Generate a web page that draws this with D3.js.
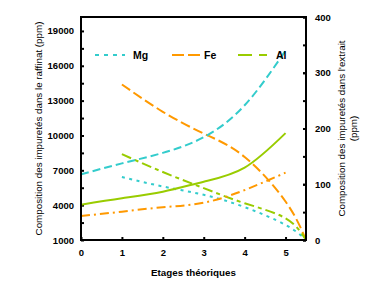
<!DOCTYPE html>
<html>
<head>
<meta charset="utf-8">
<script src="https://cdn.jsdelivr.net/npm/d3@7"></script>
<style>
  body { margin: 0; background: #fff; }
  text { font-family: "Liberation Sans", Arial, sans-serif; fill: #000; }
  .tick text { font-size: 9.5px; font-weight: bold; }
  .title { font-size: 9.8px; }
</style>
</head>
<body>
<svg id="drawing_region"></svg>
<script>
// stages and values
const stagesRaffinat = [0, 1, 2, 3, 4, 5];
const stagesExtrait = [1, 2, 3, 4, 5, 5.5];

const mgRaffinat = [6650, 7600, 8500, 9850, 12600, 17300];
const feRaffinat = [3070, 3440, 3820, 4210, 5300, 6800];
const alRaffinat = [4040, 4590, 5160, 6020, 7230, 10200];

const mgExtrait = [113, 96, 81, 59, 27, 0];
const feExtrait = [279, 230, 191, 149, 69, 0];
const alExtrait = [154, 122, 93, 66, 39, 0];

const xTicks = [0, 1, 2, 3, 4, 5];
const leftTicks = [1000, 4000, 7000, 10000, 13000, 16000, 19000];
const rightTicks = [0, 100, 200, 300, 400];
const legendNames = ['Mg', 'Fe', 'Al'];

const width = 387, height = 285;
const margin = {top: 17, right: 81, bottom: 45, left: 81};

const svg = d3.select('#drawing_region')
    .attr('width', width)
    .attr('height', height);

const x = d3.scaleLinear().domain([0, 5.5]).range([margin.left, width - margin.right]);
const yL = d3.scaleLinear().domain([1000, 20200]).range([height - margin.bottom, margin.top]);
const yR = d3.scaleLinear().domain([0, 400]).range([height - margin.bottom, margin.top]);

const colors = {Mg: '#33cccc', Fe: '#ff9900', Al: '#99cc00'};

// axes
const bottom = height - margin.bottom;
const right = width - margin.right;

svg.append('g')
    .attr('transform', `translate(0,${bottom})`)
    .call(d3.axisBottom(x).tickValues(xTicks).tickSize(-3).tickPadding(9).tickFormat(d3.format('d')))
    .call(g => g.select('.domain').remove());

svg.append('g')
    .attr('transform', `translate(${margin.left},0)`)
    .call(d3.axisLeft(yL).tickValues(d3.range(2500, 20200, 3000)).tickSize(-3).tickFormat(''))
    .call(g => g.select('.domain').remove());

svg.append('g')
    .attr('transform', `translate(${margin.left},0)`)
    .call(d3.axisLeft(yL).tickValues(leftTicks).tickSize(-3).tickPadding(7).tickFormat(d3.format('d')))
    .call(g => g.select('.domain').remove());

svg.append('g')
    .attr('transform', `translate(${right},0)`)
    .call(d3.axisRight(yR).tickValues(d3.range(0, 401, 50)).tickSize(-3).tickFormat(''))
    .call(g => g.select('.domain').remove());

svg.append('g')
    .attr('transform', `translate(${right},0)`)
    .call(d3.axisRight(yR).tickValues(rightTicks).tickSize(-3).tickPadding(9).tickFormat(d3.format('d')))
    .call(g => g.select('.domain').remove());

svg.selectAll('.tick line').attr('stroke', '#000').attr('stroke-width', 2);

// curves
const lineL = d3.line().x(d => x(d[0])).y(d => yL(d[1])).curve(d3.curveNatural);
const lineR = d3.line().x(d => x(d[0])).y(d => yR(d[1])).curve(d3.curveNatural);

const series = [
    {name: 'Mg', line: lineR, xs: stagesExtrait, ys: mgExtrait, dash: '3,4.5'},
    {name: 'Fe', line: lineR, xs: stagesExtrait, ys: feExtrait, dash: '10,4'},
    {name: 'Al', line: lineR, xs: stagesExtrait, ys: alExtrait, dash: '10,4,4,4'},
    {name: 'Mg', line: lineL, xs: stagesRaffinat, ys: mgRaffinat, dash: '8,4'},
    {name: 'Fe', line: lineL, xs: stagesRaffinat, ys: feRaffinat, dash: '9,4,2,4'},
    {name: 'Al', line: lineL, xs: stagesRaffinat, ys: alRaffinat, dash: null}
];

svg.append('g').selectAll('path')
    .data(series)
    .join('path')
    .attr('d', d => d.line(d.xs.map((v, i) => [v, d.ys[i]])))
    .attr('fill', 'none')
    .attr('stroke', d => colors[d.name])
    .attr('stroke-width', 2)
    .attr('stroke-dasharray', d => d.dash);

// frame
svg.append('rect')
    .attr('x', margin.left)
    .attr('y', margin.top)
    .attr('width', right - margin.left)
    .attr('height', bottom - margin.top)
    .attr('fill', 'none')
    .attr('stroke', '#000')
    .attr('stroke-width', 2);

// legend
const legendX = [95, 172, 238];
const legendDash = ['4,5', '12,4', '14,7,8,7'];
const legend = svg.append('g').selectAll('g')
    .data(legendNames)
    .join('g')
    .attr('transform', (d, i) => `translate(${legendX[i]},55)`);

legend.append('line')
    .attr('x1', 0).attr('x2', 30)
    .attr('stroke', d => colors[d])
    .attr('stroke-width', 2)
    .attr('stroke-dasharray', (d, i) => legendDash[i]);

legend.append('text')
    .attr('x', (d, i) => i === 1 ? 32 : 38)
    .attr('y', 4)
    .style('font-size', '10.5px')
    .style('font-weight', 'bold')
    .text(d => d);

// titles
svg.append('text')
    .attr('class', 'title')
    .attr('x', (margin.left + right) / 2)
    .attr('y', 276)
    .attr('text-anchor', 'middle')
    .style('font-weight', 'bold')
    .text('Etages théoriques');

svg.append('text')
    .attr('class', 'title')
    .attr('transform', `translate(41.5,${(margin.top + bottom) / 2}) rotate(-90)`)
    .attr('text-anchor', 'middle')
    .text('Composition des impuretés dans le raffinat (ppm)');

const rightTitle = svg.append('text')
    .attr('class', 'title')
    .attr('transform', `translate(345,${(margin.top + bottom) / 2}) rotate(-90)`)
    .attr('text-anchor', 'middle');
rightTitle.append('tspan').attr('x', 0).attr('dy', 0).text("Composition des impuretés dans l'extrait");
rightTitle.append('tspan').attr('x', 0).attr('dy', 11.5).text('(ppm)');
</script>
</body>
</html>
